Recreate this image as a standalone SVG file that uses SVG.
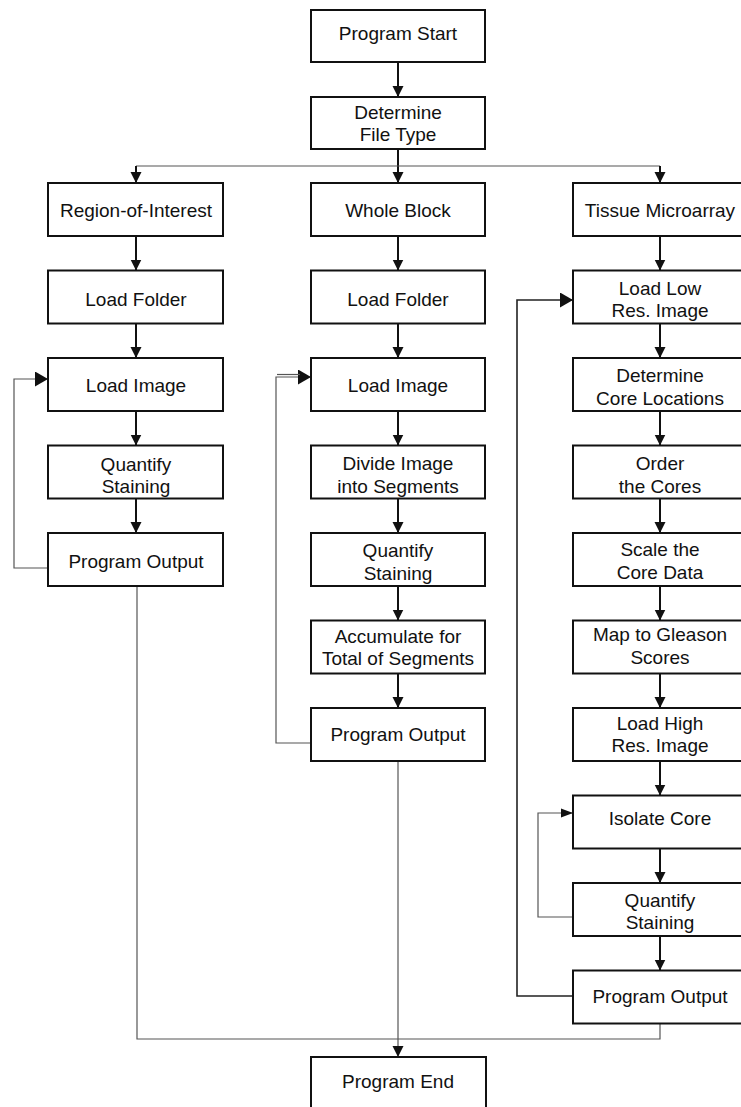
<svg xmlns="http://www.w3.org/2000/svg" width="741" height="1107" viewBox="0 0 741 1107">
<style>
.box{fill:#fff;stroke:#111;stroke-width:2}
.t{font-family:"Liberation Sans",Arial,sans-serif;font-size:19px;fill:#111;text-anchor:middle}
.c{fill:none;stroke:#111;stroke-width:2}
.thin{fill:none;stroke:#555;stroke-width:1.2}
.mid{fill:none;stroke:#222;stroke-width:1.6}
</style>
<defs>
<marker id="ah" markerWidth="12" markerHeight="12" refX="11" refY="6" orient="auto" markerUnits="userSpaceOnUse"><path d="M0,0.5 L11,6 L0,11.5 z" fill="#111"/></marker>
<marker id="ahs" markerWidth="12" markerHeight="12" refX="12" refY="5" orient="auto" markerUnits="userSpaceOnUse"><path d="M0,0.5 L12,5 L0,9.5 z" fill="#111"/></marker>
<marker id="ahl" markerWidth="14" markerHeight="16" refX="13" refY="7.5" orient="auto" markerUnits="userSpaceOnUse"><path d="M0,0 L13,7.5 L0,15 z" fill="#111"/></marker>
</defs>
<g id="connectors">
<path class="c" d="M398,62 V97" marker-end="url(#ah)"/>
<path class="c" d="M398,149 V183" marker-end="url(#ah)"/>
<path class="thin" d="M136,166 H660"/>
<path class="c" d="M136,166 V183" marker-end="url(#ah)"/>
<path class="c" d="M660,166 V183" marker-end="url(#ah)"/>
<path class="c" d="M136,236 V270.5" marker-end="url(#ah)"/>
<path class="c" d="M136,323.5 V358" marker-end="url(#ah)"/>
<path class="c" d="M136,411 V445.5" marker-end="url(#ah)"/>
<path class="c" d="M136,498.5 V533" marker-end="url(#ah)"/>
<path class="c" d="M398,236 V270.5" marker-end="url(#ah)"/>
<path class="c" d="M398,323.5 V358" marker-end="url(#ah)"/>
<path class="c" d="M398,411 V445.5" marker-end="url(#ah)"/>
<path class="c" d="M398,498.5 V533" marker-end="url(#ah)"/>
<path class="c" d="M398,586 V620.5" marker-end="url(#ah)"/>
<path class="c" d="M398,673.5 V708" marker-end="url(#ah)"/>
<path class="c" d="M660,236 V270.5" marker-end="url(#ah)"/>
<path class="c" d="M660,323.5 V358" marker-end="url(#ah)"/>
<path class="c" d="M660,411 V445.5" marker-end="url(#ah)"/>
<path class="c" d="M660,498.5 V533" marker-end="url(#ah)"/>
<path class="c" d="M660,586 V620.5" marker-end="url(#ah)"/>
<path class="c" d="M660,673.5 V708" marker-end="url(#ah)"/>
<path class="c" d="M660,761 V795.5" marker-end="url(#ah)"/>
<path class="c" d="M660,848.5 V883" marker-end="url(#ah)"/>
<path class="c" d="M660,936 V970.5" marker-end="url(#ah)"/>
<path class="thin" d="M48,568 H14 V379 H48" marker-end="url(#ahl)"/>
<path class="thin" d="M311,743 H276 V377 H311" marker-end="url(#ahl)"/>
<path class="thin" d="M277,374.5 H300"/>
<path class="mid" d="M573,996 H517 V300 H573" marker-end="url(#ahl)"/>
<path class="thin" d="M573,917 H538 V813 H573" marker-end="url(#ahs)"/>
<path class="thin" d="M137,584 V1039 H398"/>
<path class="thin" d="M660,1023 V1039 H398"/>
<path class="thin" d="M398,761 V1057" marker-end="url(#ah)"/>
</g>
<g id="n-start"><rect class="box" x="311" y="10" width="174" height="52"/><text class="t" x="398" y="40">Program Start</text></g>
<g id="n-filetype"><rect class="box" x="311" y="97" width="174" height="52"/><text class="t" x="398" y="119">Determine</text><text class="t" x="398" y="140.5">File Type</text></g>
<g id="n-roi"><rect class="box" x="48" y="183" width="175" height="53"/><text class="t" x="136" y="217">Region-of-Interest</text></g>
<g id="n-roi-folder"><rect class="box" x="48" y="270.5" width="175" height="53"/><text class="t" x="136" y="305.5">Load Folder</text></g>
<g id="n-roi-image"><rect class="box" x="48" y="358" width="175" height="53"/><text class="t" x="136" y="392">Load Image</text></g>
<g id="n-roi-quant"><rect class="box" x="48" y="445.5" width="175" height="53"/><text class="t" x="136" y="470.5">Quantify</text><text class="t" x="136" y="492.5">Staining</text></g>
<g id="n-roi-out"><rect class="box" x="48" y="533" width="175" height="53"/><text class="t" x="136" y="568">Program Output</text></g>
<g id="n-wb"><rect class="box" x="311" y="183" width="174" height="53"/><text class="t" x="398" y="217">Whole Block</text></g>
<g id="n-wb-folder"><rect class="box" x="311" y="270.5" width="174" height="53"/><text class="t" x="398" y="305.5">Load Folder</text></g>
<g id="n-wb-image"><rect class="box" x="311" y="358" width="174" height="53"/><text class="t" x="398" y="392">Load Image</text></g>
<g id="n-wb-divide"><rect class="box" x="311" y="445.5" width="174" height="53"/><text class="t" x="398" y="469.5">Divide Image</text><text class="t" x="398" y="492.5">into Segments</text></g>
<g id="n-wb-quant"><rect class="box" x="311" y="533" width="174" height="53"/><text class="t" x="398" y="557">Quantify</text><text class="t" x="398" y="580">Staining</text></g>
<g id="n-wb-accum"><rect class="box" x="311" y="620.5" width="174" height="53"/><text class="t" x="398" y="642.5">Accumulate for</text><text class="t" x="398" y="664.5">Total of Segments</text></g>
<g id="n-wb-out"><rect class="box" x="311" y="708" width="174" height="53"/><text class="t" x="398" y="741">Program Output</text></g>
<g id="n-tma"><rect class="box" x="573" y="183" width="175" height="53"/><text class="t" x="660" y="217">Tissue Microarray</text></g>
<g id="n-tma-low"><rect class="box" x="573" y="270.5" width="175" height="53"/><text class="t" x="660" y="294.5">Load Low</text><text class="t" x="660" y="316.5">Res. Image</text></g>
<g id="n-tma-loc"><rect class="box" x="573" y="358" width="175" height="53"/><text class="t" x="660" y="381.5">Determine</text><text class="t" x="660" y="405">Core Locations</text></g>
<g id="n-tma-order"><rect class="box" x="573" y="445.5" width="175" height="53"/><text class="t" x="660" y="469.5">Order</text><text class="t" x="660" y="492.5">the Cores</text></g>
<g id="n-tma-scale"><rect class="box" x="573" y="533" width="175" height="53"/><text class="t" x="660" y="555.5">Scale the</text><text class="t" x="660" y="578.5">Core Data</text></g>
<g id="n-tma-map"><rect class="box" x="573" y="620.5" width="175" height="53"/><text class="t" x="660" y="641">Map to Gleason</text><text class="t" x="660" y="663.5">Scores</text></g>
<g id="n-tma-high"><rect class="box" x="573" y="708" width="175" height="53"/><text class="t" x="660" y="729.5">Load High</text><text class="t" x="660" y="752">Res. Image</text></g>
<g id="n-tma-iso"><rect class="box" x="573" y="795.5" width="175" height="53"/><text class="t" x="660" y="825">Isolate Core</text></g>
<g id="n-tma-quant"><rect class="box" x="573" y="883" width="175" height="53"/><text class="t" x="660" y="906.5">Quantify</text><text class="t" x="660" y="929">Staining</text></g>
<g id="n-tma-out"><rect class="box" x="573" y="970.5" width="175" height="53"/><text class="t" x="660" y="1003">Program Output</text></g>
<g id="n-end"><rect class="box" x="311" y="1057" width="175" height="53"/><text class="t" x="398" y="1088">Program End</text></g>
</svg>
